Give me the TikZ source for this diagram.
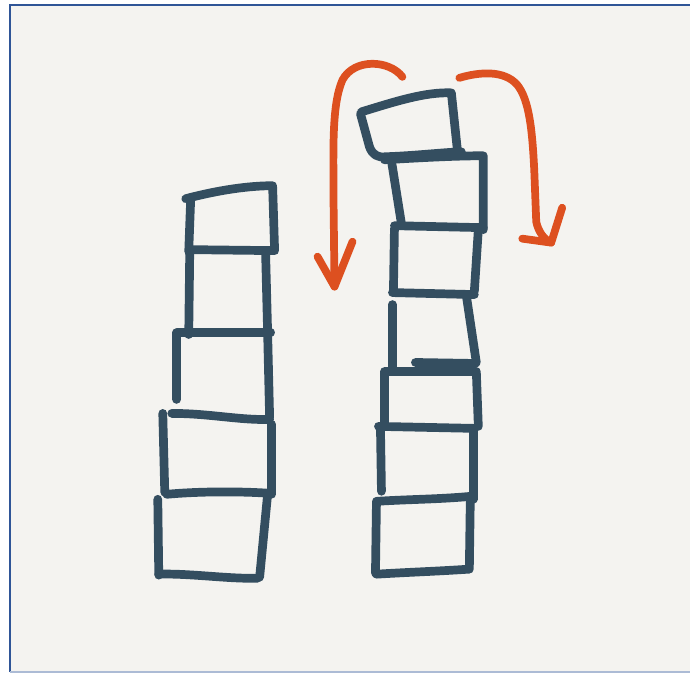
\documentclass[tikz,border=0pt]{standalone}
\usetikzlibrary{arrows.meta}
\definecolor{cslate}{HTML}{344E60}
\definecolor{corange}{HTML}{DD5020}
\definecolor{cpaper}{HTML}{F4F3F0}
\definecolor{cframe}{HTML}{2F5597}
\tikzset{
  block/.style={draw=cslate, line width=6.2pt, line cap=round, line join=round},
  swing/.style={draw=corange, line width=5.5pt, line cap=round, line join=round},
}

\begin{document}
\begin{tikzpicture}[x=0.025cm, y=-0.025cm]
  % paper and frame
  \fill[white] (0,0) rectangle (691,674);
  \fill[cpaper] (10,5) rectangle (691,673);
  \draw[cframe, line width=1.4pt] (10,673) -- (10,5) -- (691,5);
  \draw[cframe!40, line width=0.8pt] (10,673) -- (691,673);

  % left stack, top to bottom
  \draw[block] (186,199) .. controls (220,190) and (250,186) .. (273,186) -- (275,251) -- (190,250);
  \draw[block] (191,198) -- (189,252);
  \draw[block] (190,253) -- (189,335);
  \draw[block] (266,254) -- (268,333);
  \draw[block] (178,333) -- (271,333);
  \draw[block] (177,333) -- (177,400);
  \draw[block] (268,333) -- (270,418);
  \draw[block] (172,414) .. controls (210,414) and (240,421) .. (270,420);
  \draw[block] (163,414) -- (165,493);
  \draw[block] (272,425) -- (272,495);
  \draw[block] (167,495) .. controls (200,492) and (240,492) .. (270,494);
  \draw[block] (158,500) -- (159,576);
  \draw[block] (268,495) -- (260,578);
  \draw[block] (159,575) .. controls (190,574) and (230,580) .. (258,579);

  % right stack, top block tipping over
  \draw[block] (362,112) .. controls (395,102) and (425,92) .. (452,93) -- (458,150);
  \draw[block] (361,114) -- (370,147) .. controls (373,155) and (378,158) .. (386,157) .. controls (415,156) and (440,153) .. (462,152);
  \draw[block] (385,160) .. controls (420,158) and (455,156) .. (484,156) -- (484,230);
  \draw[block] (392,161) -- (402,224);
  \draw[block] (395,226) -- (484,228);
  \draw[block] (395,229) -- (394,291);
  \draw[block] (479,230) -- (475,292);
  \draw[block] (393,293) -- (475,295);
  \draw[block] (393,305) -- (393,368);
  \draw[block] (467,296) -- (477,363);
  \draw[block] (416,363) -- (476,364);
  \draw[block] (385,372) -- (477,372) -- (479,427);
  \draw[block] (385,373) -- (385,427);
  \draw[block] (379,427) -- (475,429);
  \draw[block] (381,428) -- (382,492);
  \draw[block] (474,430) -- (474,500);
  \draw[block] (378,502) .. controls (410,500) and (440,500) .. (472,497);
  \draw[block] (377,502) -- (376,574);
  \draw[block] (471,498) -- (470,570);
  \draw[block] (377,575) .. controls (410,573) and (440,572) .. (469,570);

  % orange arrows
  \draw[swing] (403,77) .. controls (390,60) and (355,58) .. (343,80) .. controls (332,105) and (334,150) .. (334,200) -- (335,287);
  \draw[swing] (318,257) -- (335,287) -- (353,242);
  \draw[swing] (460,78) .. controls (480,72) and (505,70) .. (518,85) .. controls (530,100) and (533,130) .. (535,170) -- (537,222) .. controls (539,232) and (545,240) .. (552,243);
  \draw[swing] (523,239) -- (552,243) -- (563,208);
\end{tikzpicture}
\end{document}
